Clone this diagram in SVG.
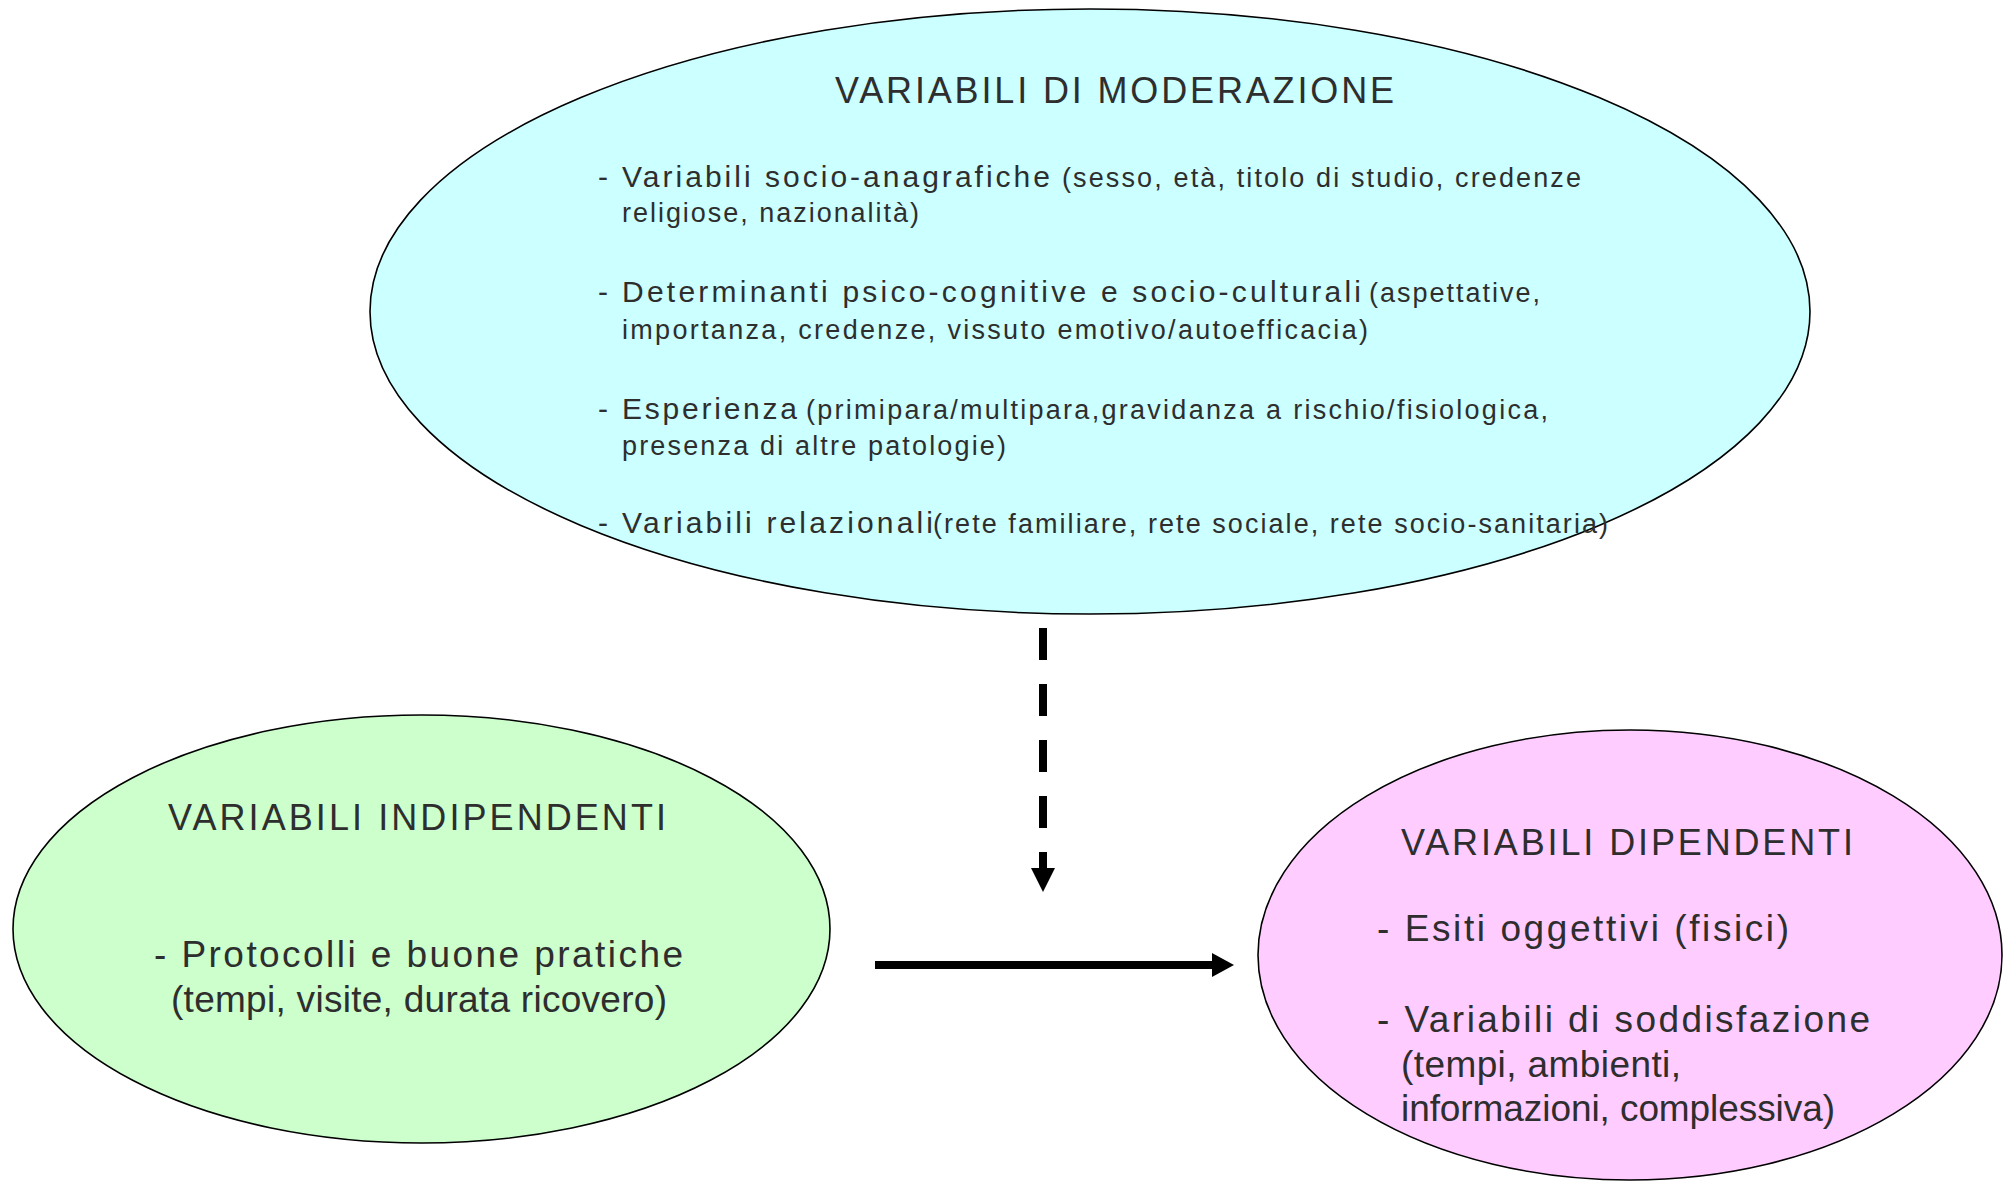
<svg xmlns="http://www.w3.org/2000/svg" width="2012" height="1184" viewBox="0 0 2012 1184">
<style>
.node{stroke:#000;stroke-width:1.6}
text{font-family:"Liberation Sans",Arial,sans-serif;fill:#2e2e2e}
.t{font-size:36px}
.b{font-size:27px}
.l{font-size:30px}
.m{font-size:37px}
</style>
<defs/>
<rect width="2012" height="1184" fill="#fff"/>
<g id="moderazione">
<ellipse class="node" cx="1090" cy="311.5" rx="720" ry="302.5" fill="#CCFFFF"/>
<text class="t" x="835" y="103" textLength="559" lengthAdjust="spacing">VARIABILI DI MODERAZIONE</text>
<text class="b" y="187"><tspan class="l" x="598">-</tspan><tspan class="l" x="622" textLength="428" lengthAdjust="spacing">Variabili socio-anagrafiche</tspan><tspan x="1062" textLength="519" lengthAdjust="spacing">(sesso, età, titolo di studio, credenze</tspan></text>
<text class="b" y="222"><tspan x="622" textLength="297" lengthAdjust="spacing">religiose, nazionalità)</tspan></text>
<text class="b" y="302"><tspan class="l" x="598">-</tspan><tspan class="l" x="622" textLength="739" lengthAdjust="spacing">Determinanti psico-cognitive e socio-culturali</tspan><tspan x="1369" textLength="171" lengthAdjust="spacing">(aspettative,</tspan></text>
<text class="b" y="339"><tspan x="622" textLength="746" lengthAdjust="spacing">importanza, credenze, vissuto emotivo/autoefficacia)</tspan></text>
<text class="b" y="419"><tspan class="l" x="598">-</tspan><tspan class="l" x="622" textLength="175" lengthAdjust="spacing">Esperienza</tspan><tspan x="806" textLength="742" lengthAdjust="spacing">(primipara/multipara,gravidanza a rischio/fisiologica,</tspan></text>
<text class="b" y="455"><tspan x="622" textLength="384" lengthAdjust="spacing">presenza di altre patologie)</tspan></text>
<text class="b" y="533"><tspan class="l" x="598">-</tspan><tspan class="l" x="622" textLength="311" lengthAdjust="spacing">Variabili relazionali</tspan><tspan x="933" textLength="675" lengthAdjust="spacing">(rete familiare, rete sociale, rete socio-sanitaria)</tspan></text>
</g>
<g id="indipendenti">
<ellipse class="node" cx="421.5" cy="929" rx="408.5" ry="214" fill="#CCFFCC"/>
<text class="t" x="168" y="830" textLength="498" lengthAdjust="spacing">VARIABILI INDIPENDENTI</text>
<text class="m" x="154" y="967" textLength="529" lengthAdjust="spacing">- Protocolli e buone pratiche</text>
<text class="m" x="171" y="1012" textLength="496" lengthAdjust="spacing">(tempi, visite, durata ricovero)</text>
</g>
<g id="dipendenti">
<ellipse class="node" cx="1630" cy="955" rx="372" ry="225" fill="#FFCCFF"/>
<text class="t" x="1401" y="855" textLength="452" lengthAdjust="spacing">VARIABILI DIPENDENTI</text>
<text class="m" x="1377" y="941" textLength="412" lengthAdjust="spacing">- Esiti oggettivi (fisici)</text>
<text class="m" x="1377" y="1032" textLength="493" lengthAdjust="spacing">- Variabili di soddisfazione</text>
<text class="m" x="1401" y="1077" textLength="280" lengthAdjust="spacing">(tempi, ambienti,</text>
<text class="m" x="1401" y="1121" textLength="434" lengthAdjust="spacing">informazioni, complessiva)</text>
</g>
<g id="connectors">
<line x1="1043" y1="628" x2="1043" y2="868" stroke="#000" stroke-width="8" stroke-dasharray="32 24"/>
<polygon points="1031,868 1055,868 1043,892" fill="#000"/>
<line x1="875" y1="965" x2="1213" y2="965" stroke="#000" stroke-width="8"/>
<polygon points="1212,953 1234,965 1212,977" fill="#000"/>
</g>
</svg>
